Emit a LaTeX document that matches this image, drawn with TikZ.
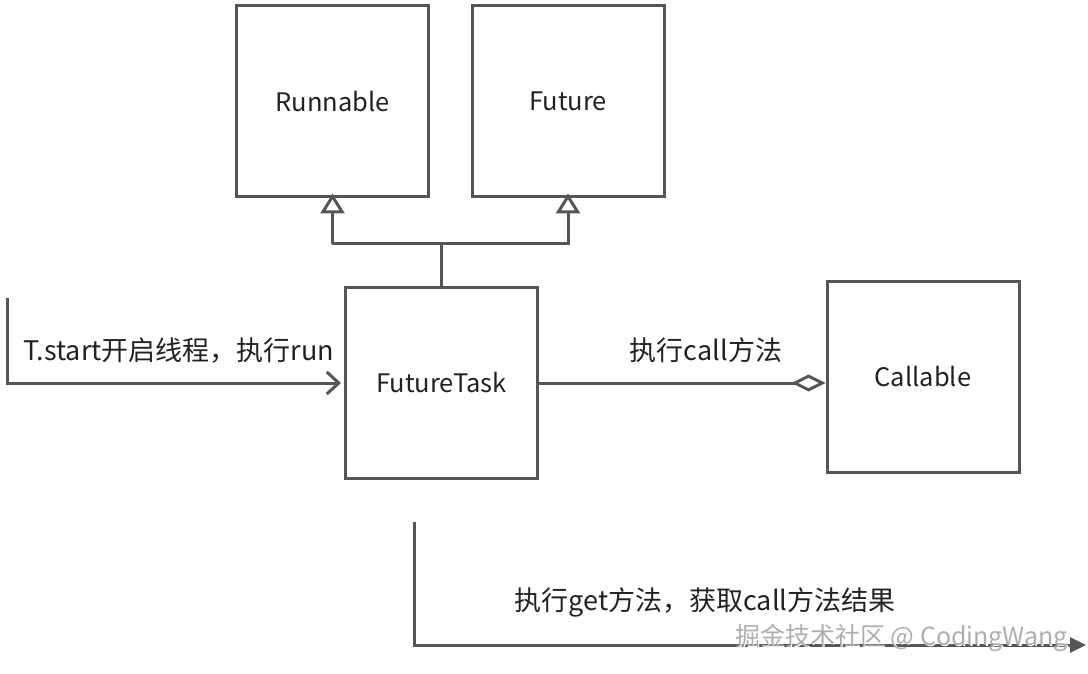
\documentclass[tikz,border=0pt]{standalone}
\usepackage{fontspec}
\setmainfont{Noto Sans CJK SC}
\usetikzlibrary{arrows.meta}
\definecolor{ln}{HTML}{555555}
\definecolor{tx}{HTML}{222222}
\tikzset{
  box/.style={draw=ln, line width=3pt, minimum width=192pt, minimum height=191pt, inner sep=0pt, text=tx, font=\fontsize{25.5}{30}\selectfont},
  conn/.style={draw=ln, line width=3pt},
  lbl/.style={text=tx, font=\fontsize{27}{32}\selectfont, inner sep=0pt},
  inherit/.style={-{Triangle[open, width=24pt, length=20pt, line width=3pt]}},
}
\begin{document}
\begin{tikzpicture}[x=1pt,y=-1pt]
\useasboundingbox (0,0) rectangle (1088,674);
\node[box] (run) at (332.5,101.5) {Runnable};
\node[box] (fut) at (568,101.5) {Future};
\node[box] (ft) at (441.5,383) {FutureTask};
\node[box] (cal) at (923,377) {Callable};
% inheritance
\coordinate (j) at (441.5,243);
\coordinate (jl) at (332.5,243);
\coordinate (jr) at (568,243);
\draw[conn] (ft.north) -- (j);
\draw[conn, inherit, line join=round] (j) -- (jl) -- ([yshift=5pt]run.south);
\draw[conn, inherit] (j) -- (jr) -- ([yshift=5pt]fut.south);
% start arrow
\coordinate (s0) at (7,298);
\coordinate (s1) at (7,383);
\draw[conn, -{Straight Barb[length=12pt, width=22pt, line width=3pt]}] (s0) -- (s1) -- ([xshift=-3pt]ft.west);
\node[lbl] (l1) at (179,351) {T.start开启线程，执行run};
% call
\draw[conn, -{Diamond[open, length=34pt, width=17pt, line width=3pt]}] (ft.east |- 0,383) -- (cal.west |- 0,383);
\node[lbl] (l2) at (706,350) {执行call方法};
% get
\coordinate (g0) at (414,522);
\coordinate (g1) at (414,645);
\coordinate (g2) at (1086,645);
\draw[conn, -{Triangle[length=16pt, width=15pt]}] (g0) -- (g1) -- (g2);
\node[lbl] (l3) at (705,602) {执行get方法，获取call方法结果};
% watermark
\node[text=white, font=\fontsize{25}{30}\selectfont, inner sep=0pt] (wm0) at (903,639.5) {掘金技术社区 @ CodingWang};
\node[text=gray!70, font=\fontsize{25}{30}\selectfont, inner sep=0pt, opacity=0.9] (wm) at (901.5,638) {掘金技术社区 @ CodingWang};
\end{tikzpicture}
\end{document}
